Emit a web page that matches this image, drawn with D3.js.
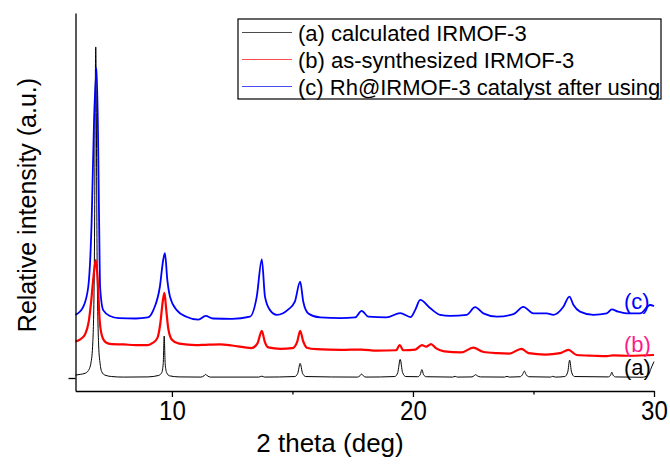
<!DOCTYPE html>
<html>
<head>
<meta charset="utf-8">
<script src="https://cdn.jsdelivr.net/npm/d3@7"></script>
<style>
body { margin: 0; background: #fff; }
svg { font-family: Arial, "Liberation Sans", sans-serif; }
.axis path, .axis line { stroke: #000; stroke-width: 1.3; }
</style>
</head>
<body>
<div id="chart"></div>
<script>
// Patterns: [2 theta (deg), relative intensity]
const calculated = [
  [6.0, 0.8], [6.2, 1.0], [6.4, 1.3], [6.53, 2.0], [6.64, 4.1], [6.72, 10], [6.78, 30], [6.84, 90.7],
  [6.9, 30], [6.96, 9], [7.02, 4], [7.09, 1.7], [7.22, 0.8], [7.5, 0.4], [8.0, 0.25], [9.0, 0.3],
  [9.45, 0.7], [9.58, 1.5], [9.64, 4], [9.68, 11.5], [9.72, 4], [9.78, 1.5], [9.9, 0.6], [10.3, 0.3],
  [11.2, 0.25], [11.33, 0.6], [11.4, 1.0], [11.47, 0.6], [11.6, 0.25], [13.6, 0.25], [13.73, 0.5], [13.85, 0.25],
  [15.1, 0.4], [15.22, 1.3], [15.32, 4.0], [15.42, 1.3], [15.55, 0.4], [17.7, 0.25], [17.8, 0.6], [17.87, 1.1],
  [17.94, 0.6], [18.05, 0.25], [19.25, 0.4], [19.37, 1.5], [19.47, 5.1], [19.57, 1.5], [19.7, 0.4], [20.2, 0.35],
  [20.3, 0.9], [20.37, 2.3], [20.44, 0.9], [20.55, 0.35], [21.65, 0.25], [21.75, 0.45], [21.85, 0.25], [22.45, 0.3],
  [22.55, 0.7], [22.6, 0.9], [22.67, 0.6], [22.8, 0.3], [23.8, 0.25], [23.9, 0.45], [24.0, 0.25], [24.45, 0.35],
  [24.55, 1.0], [24.62, 1.9], [24.69, 1.0], [24.8, 0.35], [25.7, 0.25], [25.8, 0.45], [25.9, 0.25], [26.3, 0.4],
  [26.42, 1.6], [26.5, 4.9], [26.58, 1.6], [26.7, 0.4], [28.1, 0.3], [28.2, 0.8], [28.25, 1.6], [28.3, 0.8],
  [28.4, 0.3], [29.5, 0.2], [29.75, 0.7], [29.9, 3.0], [30.0, 4.5]
]

const synthesized = [
  [6.0, 10.0], [6.2, 10.6], [6.4, 12.0], [6.55, 15.5], [6.65, 21], [6.75, 28], [6.84, 32.3], [6.92, 27],
  [7.0, 16], [7.1, 11.5], [7.25, 9.8], [7.5, 9.3], [8.0, 9.2], [8.5, 9.0], [9.0, 9.0], [9.2, 9.6],
  [9.4, 11], [9.52, 15], [9.62, 21], [9.69, 23.3], [9.76, 19], [9.85, 13.5], [10.0, 10.5], [10.3, 9.4],
  [11.0, 9.0], [11.4, 9.1], [12.0, 9.2], [12.5, 8.9], [13.3, 8.2], [13.55, 9.5], [13.73, 12.9], [13.85, 10],
  [14.0, 8.4], [14.5, 8.0], [15.0, 8.2], [15.2, 10], [15.32, 12.9], [15.45, 10], [15.6, 8.3], [16.0, 7.9],
  [17.0, 7.7], [17.87, 7.8], [18.5, 7.5], [19.3, 7.6], [19.45, 9.0], [19.6, 7.6], [20.1, 7.8], [20.37, 9.0],
  [20.55, 8.6], [20.75, 9.3], [20.95, 8.2], [21.3, 7.3], [22.0, 7.0], [22.5, 8.3], [22.9, 7.2], [23.5, 6.8],
  [24.0, 6.7], [24.5, 8.0], [24.8, 6.8], [25.5, 6.4], [26.1, 6.8], [26.45, 7.7], [26.8, 6.3], [27.5, 6.1],
  [28.04, 6.0], [28.3, 6.2], [29.0, 6.1], [30.0, 6.3]
]

const catalyst = [
  [6.0, 17.3], [6.32, 19.5], [6.53, 25], [6.67, 43], [6.77, 70.7], [6.88, 84.9], [6.98, 43], [7.02, 25],
  [7.15, 18.6], [7.43, 17], [7.8, 16.4], [8.5, 16.3], [9.0, 16.6], [9.23, 18.6], [9.5, 25], [9.64, 32.4],
  [9.71, 34.2], [9.81, 26.8], [9.92, 22.3], [10.2, 18.6], [10.6, 16.8], [11.1, 16.0], [11.4, 17.0], [11.7, 16.3],
  [12.5, 16.2], [13.24, 16.8], [13.52, 22.3], [13.73, 32.5], [13.86, 22.3], [14.07, 18.6], [14.35, 17.3], [14.83, 18.8],
  [15.1, 20.9], [15.32, 26.4], [15.45, 20.9], [15.66, 17.7], [16.15, 16.6], [17.0, 16.4], [17.6, 16.6], [17.87, 18.4],
  [18.15, 16.8], [18.9, 16.6], [19.47, 17.8], [19.9, 16.7], [20.09, 18.6], [20.3, 21.4], [20.72, 19.1], [21.13, 17.3],
  [21.54, 17.0], [22.23, 17.3], [22.58, 19.4], [22.92, 17.7], [23.48, 16.8], [24.17, 17.5], [24.58, 19.5], [25.0, 17.7],
  [25.55, 17.7], [25.83, 17.3], [26.24, 19.5], [26.49, 22.3], [26.66, 20], [26.93, 18.2], [27.49, 17.3], [28.04, 17.7],
  [28.25, 18.8], [28.5, 18.2], [28.87, 17.7], [29.42, 17.7], [29.84, 20], [30.0, 19.7]
]

const legendNames = ["(a) calculated IRMOF-3", "(b) as-synthesized IRMOF-3", "(c) Rh@IRMOF-3 catalyst after using"]
const curveTags = ["(a)", "(b)", "(c)"]
const xTicks = [10, 20, 30]
const xMinorTicks = [15, 25]

const width = 670
const height = 468
const margin = {top: 13, right: 16, bottom: 77, left: 75.5}
const netWidth = width - margin.left - margin.right
const netHeight = height - margin.top - margin.bottom

const svg = d3.select("div#chart").append("svg").attr("width", width).attr("height", height)
const plot = svg.append("g").attr("transform", `translate(${margin.left}, ${margin.top})`)

const x = d3.scaleLinear().domain([6, 30]).range([0, netWidth])
const y = d3.scaleLinear().domain([-3.56, 100]).range([netHeight, 0])

// Curves
const series = [
  {data: calculated, color: "#000000", width: 1},
  {data: synthesized, color: "#ff0000", width: 2.2},
  {data: catalyst, color: "#0000ff", width: 1.8}
]
const line = d3.line().x(d => x(d[0])).y(d => y(d[1])).curve(d3.curveMonotoneX)

plot.selectAll("path.curve")
  .data(series)
  .enter().append("path")
  .attr("class", "curve")
  .attr("fill", "none")
  .attr("stroke", d => d.color)
  .attr("stroke-width", d => d.width)
  .attr("stroke-linejoin", "round")
  .attr("d", d => line(d.data))

// Axes
const xAxisGroup = plot.append("g").attr("class", "axis").attr("transform", `translate(0, ${netHeight})`)
xAxisGroup.call(d3.axisBottom(x).tickValues(xTicks).tickSize(6).tickSizeOuter(0).tickPadding(3))
// labels in the original are a little narrow
xAxisGroup.selectAll(".tick text")
  .attr("font-size", 28)
  .attr("font-family", "Arial, 'Liberation Sans', sans-serif")
  .attr("fill", "#000")
  .attr("transform", "scale(0.86, 1)")

plot.append("g").attr("class", "axis").attr("transform", `translate(0, ${netHeight})`)
  .call(d3.axisBottom(x).tickValues(xMinorTicks).tickSize(3.5).tickSizeOuter(0).tickFormat(""))
  .select(".domain").remove()

plot.append("g").attr("class", "axis")
  .call(d3.axisLeft(y).tickValues([0]).tickSize(7).tickSizeOuter(0).tickFormat(""))

// Axis titles
svg.append("text")
  .attr("x", 330).attr("y", 452)
  .attr("text-anchor", "middle")
  .attr("font-size", 26)
  .text("2 theta (deg)")

svg.append("text")
  .attr("transform", "translate(36, 205) rotate(-90)")
  .attr("text-anchor", "middle")
  .attr("font-size", 25)
  .text("Relative intensity (a.u.)")

// Curve tags
const tagLevel = [0.8, 7.1, 19]
const tagColors = ["#000000", "#ff1a8c", "#0000ff"]
plot.selectAll("text.tag")
  .data(curveTags)
  .enter().append("text")
  .attr("class", "tag")
  .attr("x", netWidth - 30)
  .attr("y", (d, i) => y(tagLevel[i]))
  .attr("font-size", 22)
  .attr("fill", (d, i) => tagColors[i])
  .text(d => d)

// Legend
const legend = svg.append("g").attr("transform", "translate(238, 19)")
legend.append("rect")
  .attr("width", 423).attr("height", 80)
  .attr("fill", "#fff").attr("stroke", "#000").attr("stroke-width", 1.2)

const rows = legend.selectAll("g.row")
  .data(legendNames)
  .enter().append("g")
  .attr("class", "row")
  .attr("transform", (d, i) => `translate(0, ${13.5 + i * 27})`)

rows.append("line")
  .attr("x1", 4).attr("x2", 54)
  .attr("stroke", (d, i) => series[i].color)
  .attr("stroke-opacity", 0.7)
  .attr("stroke-width", 1.2)

rows.append("text")
  .attr("x", 60).attr("y", 8)
  .attr("font-size", 22)
  .text(d => d)
</script>
</body>
</html>
